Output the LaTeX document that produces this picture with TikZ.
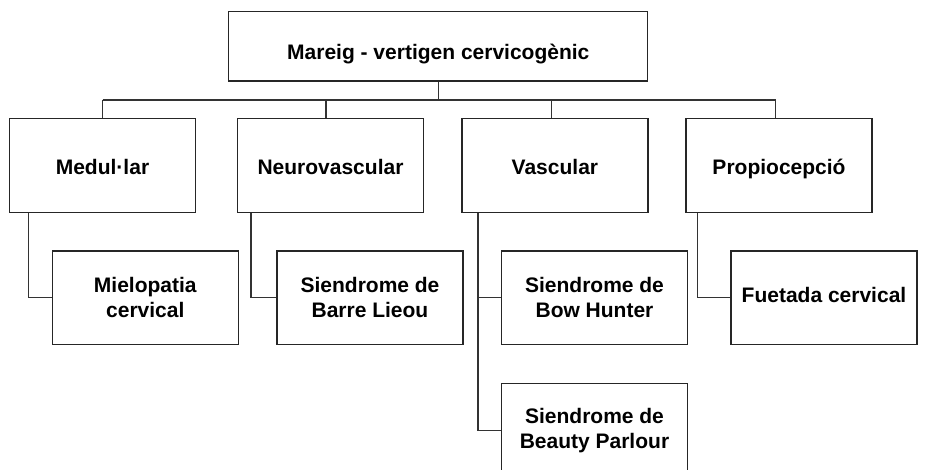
\documentclass[tikz,border=0pt]{standalone}
\usepackage{fontspec}
\setmainfont{Liberation Sans}
\begin{document}
\begin{tikzpicture}[x=1bp,y=-1bp,
  box/.style={draw=black!85, line width=1.2bp, fill=white, inner sep=0pt, align=center,
    font=\fontsize{21bp}{25bp}\selectfont\bfseries},
  lvl/.style={box, minimum width=186bp, minimum height=94bp},
  conn/.style={draw=black!80, line width=1.2bp}]
\useasboundingbox (0,0) rectangle (925,470);
\clip (0,0) rectangle (925,470);
% nodes
\node[box, minimum width=419bp, minimum height=69.3bp, text height=30bp, text depth=4bp] (top) at (438.3,46.3) {Mareig - vertigen cervicogènic};
\node[lvl, text height=22bp, text depth=3.8bp] (med)  at (102.5,165.2) {Medul·lar};
\node[lvl, text height=22bp, text depth=3.8bp] (neu)  at (330.5,165.2) {Neurovascular};
\node[lvl, text height=22bp, text depth=3.8bp] (vas)  at (554.9,165.2) {Vascular};
\node[lvl, text height=22bp, text depth=3.8bp] (prop) at (779,165.2)   {Propiocepció};
\node[lvl, minimum height=93.5bp] (mie)  at (145.3,297.7) {Mielopatia\\cervical};
\node[lvl, minimum height=93.5bp] (barre) at (370,297.7) {Siendrome de\\Barre Lieou};
\node[lvl, minimum height=93.5bp] (bow)  at (594.5,297.7) {Siendrome de\\Bow Hunter};
\node[lvl, minimum height=93.5bp, text height=15bp, text depth=5bp] (fue)  at (824,297.7) {Fuetada cervical};
\node[lvl, minimum height=93.5bp] (beau) at (594.5,430.5) {Siendrome de\\Beauty Parlour};
% bus
\coordinate (b1) at (102.7,100);
\coordinate (b2) at (326,100);
\coordinate (b3) at (551.7,100);
\coordinate (b4) at (775.7,100);
\draw[conn] (b1) -- (b4);
\draw[conn] (top.south) -- (top.south |- b1);
\draw[conn] (b1) -- (b1 |- med.north);
\draw[conn] (b2) -- (b2 |- neu.north);
\draw[conn] (b3) -- (b3 |- vas.north);
\draw[conn] (b4) -- (b4 |- prop.north);
% children
\draw[conn] ([xshift=19.3bp]med.south west) |- (mie.west);
\draw[conn] ([xshift=14bp]neu.south west) |- (barre.west);
\draw[conn] ([xshift=16.7bp]vas.south west) |- (bow.west);
\draw[conn] ([xshift=16.7bp]vas.south west) |- (beau.west);
\draw[conn] ([xshift=12bp]prop.south west) |- (fue.west);
\end{tikzpicture}
\end{document}
